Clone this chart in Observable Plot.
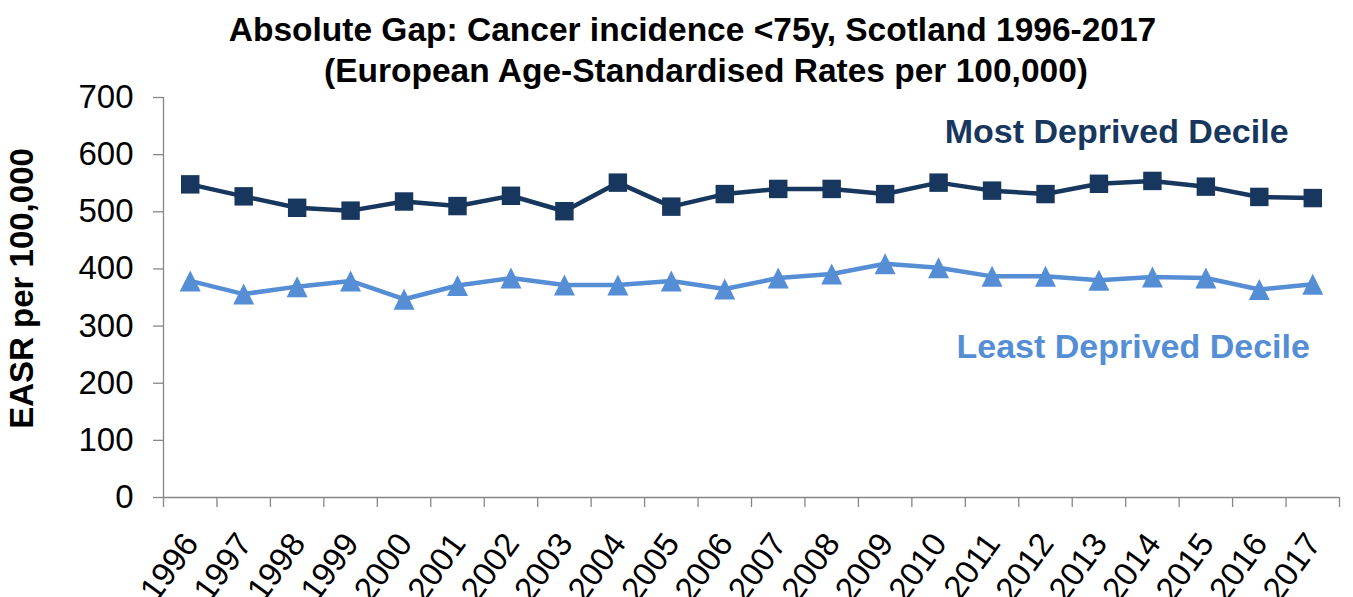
<!DOCTYPE html>
<html><head><meta charset="utf-8">
<script src="https://cdn.jsdelivr.net/npm/d3@7"></script>
<script src="https://cdn.jsdelivr.net/npm/@observablehq/plot@0.6"></script>
<style>
body{margin:0;background:#fff;font-family:"Liberation Sans",Arial,sans-serif;}
#title{height:82px;padding-top:9px;font-weight:bold;font-size:33.5px;line-height:41px;color:#000;width:1353px;overflow:visible;}
#title div{text-align:center;white-space:nowrap;}
#chart svg{display:block;}
</style></head><body>
<div id="title"><div style="width:1385px">Absolute Gap: Cancer incidence &lt;75y, Scotland 1996-2017</div><div style="width:1412px">(European Age-Standardised Rates per 100,000)</div></div>
<div id="chart"></div>
<script>
const years = [1996,1997,1998,1999,2000,2001,2002,2003,2004,2005,2006,2007,2008,2009,2010,2011,2012,2013,2014,2015,2016,2017];
const mostDeprived = [548,527,507,502,518,510,528,501,551,509,531,540,540,531,551,537,531,549,554,544,526,524];
const leastDeprived = [379,356,369,379,347,371,384,372,372,379,365,384,391,409,402,387,387,380,386,384,364,373];
const yTicks = [0,100,200,300,400,500,600,700];
const seriesNames = ["Most Deprived Decile","Least Deprived Decile"];
const yLabel = "EASR per 100,000";

const navy = "#17375E", light = "#558ED5", axisGray = "#868686";
const rows = years.map((y, i) => ({year: y, most: mostDeprived[i], least: leastDeprived[i]}));
const boundaries = [years[0] - 0.5, ...years.map(y => y + 0.5)];

const triangle = {
  draw(context, size) {
    const h = Math.sqrt(size);
    context.moveTo(0, -h / 2);
    context.lineTo(h / 2, h / 2);
    context.lineTo(-h / 2, h / 2);
    context.closePath();
  }
};

const chart = Plot.plot({
  width: 1353,
  height: 506,
  marginTop: 6,
  marginBottom: 100,
  marginLeft: 163,
  marginRight: 14,
  style: {fontFamily: '"Liberation Sans", Arial, sans-serif', color: "#000", background: "#fff", overflow: "visible"},
  x: {type: "linear", domain: [boundaries[0], boundaries[boundaries.length - 1]]},
  y: {domain: [0, 700]},
  marks: [
    Plot.ruleY([0], {stroke: axisGray, strokeWidth: 1.3}),
    Plot.ruleX([boundaries[0]], {y1: 0, y2: 700, stroke: axisGray, strokeWidth: 1.3}),
    Plot.axisX({ticks: boundaries, tickSize: 10, tickFormat: () => "", stroke: axisGray, strokeWidth: 1.3, label: null}),
    Plot.axisX({ticks: years, tickSize: 0, tickPadding: 40, tickRotate: -54, textAnchor: "end", lineAnchor: "middle", fontSize: 33, dx: 1, tickFormat: d => String(d), label: null}),
    Plot.axisY({ticks: yTicks, tickSize: 10, tickPadding: 20, fontSize: 33, stroke: axisGray, strokeWidth: 1.3, label: null}),
    Plot.text([yLabel], {frameAnchor: "left", textAnchor: "middle", rotate: -90, dx: -141, dy: -9, fontSize: 33, fontWeight: "bold", fill: "#000"}),
    Plot.line(rows, {x: "year", y: "most", stroke: navy, strokeWidth: 4.5}),
    Plot.dot(rows, {x: "year", y: "most", symbol: "square", r: 10.4, fill: navy, stroke: "none"}),
    Plot.line(rows, {x: "year", y: "least", stroke: light, strokeWidth: 4.5}),
    Plot.dot(rows, {x: "year", y: "least", symbol: triangle, r: 11.85, fill: light, stroke: "none"}),
    Plot.text([seriesNames[0]], {x: 2013.33, y: 639, fontSize: 34, fontWeight: "bold", fill: navy}),
    Plot.text([seriesNames[1]], {x: 2013.64, y: 264, fontSize: 34, fontWeight: "bold", fill: light})
  ]
});
document.getElementById("chart").appendChild(chart);
</script>
</body></html>
